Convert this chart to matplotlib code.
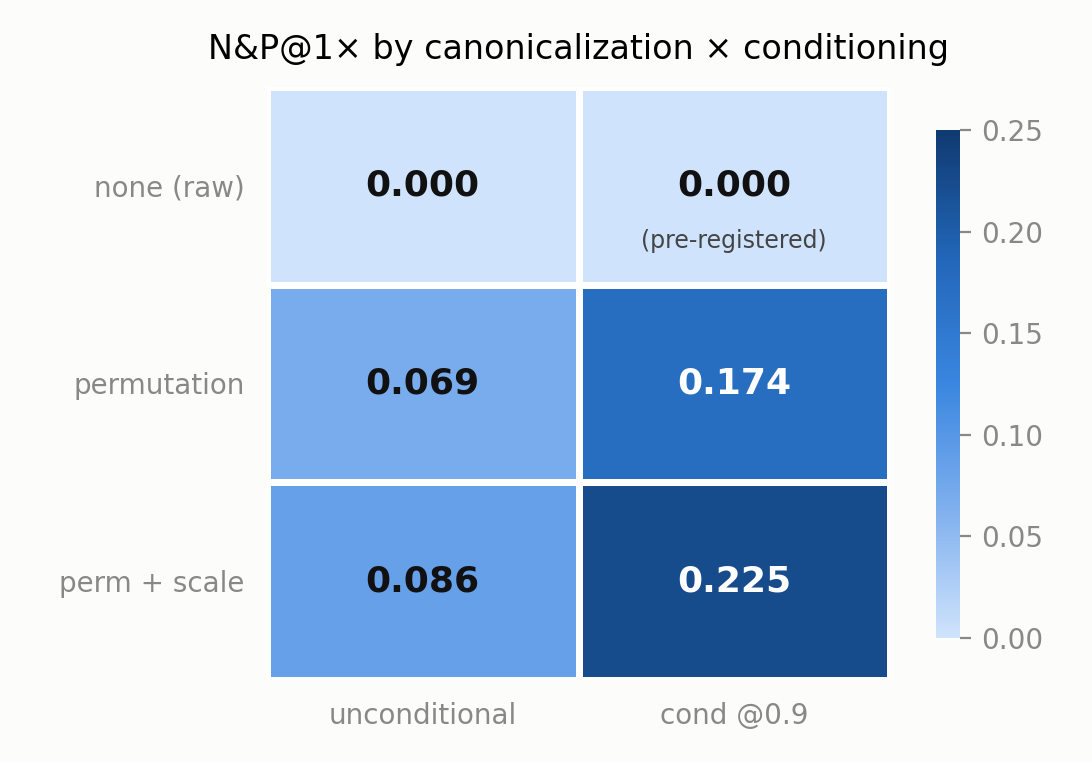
import matplotlib
matplotlib.use('Agg')
import matplotlib.pyplot as plt
import numpy as np
from matplotlib.colors import LinearSegmentedColormap

rows = ['none (raw)', 'permutation', 'perm + scale']
cols = ['unconditional', 'cond @0.9']
vals = np.array([[0.000, 0.000],
                 [0.069, 0.174],
                 [0.086, 0.225]])

bg = '#fcfcfa'
grey = '#888888'
cmap = LinearSegmentedColormap.from_list(
    'blu', ['#cfe3fc', '#80b0ee', '#3a86e0', '#2266b8', '#0f3a70'])

fig = plt.figure(figsize=(5.46, 3.81), dpi=200, facecolor=bg)
ax = fig.add_axes([267/1092, 1-680/762, 623/1092, 593/762])
cax = fig.add_axes([936/1092, 1-638/762, 24/1092, 508/762])

m = ax.pcolormesh(vals, cmap=cmap, vmin=0, vmax=0.25,
                  edgecolor='white', linewidth=2.5)
ax.set_xlim(0, 2)
ax.set_ylim(3, 0)
for s in ax.spines.values():
    s.set_visible(False)
ax.set_xticks([0.5, 1.5])
ax.set_xticklabels(cols)
ax.set_yticks([0.5, 1.5, 2.5])
ax.set_yticklabels(rows)
ax.tick_params(length=0, colors=grey, labelsize=10, pad=8)

for i in range(3):
    for j in range(2):
        v = vals[i, j]
        c = 'white' if v > 0.15 else '#111111'
        ax.text(j + 0.5, i + 0.5, '%.3f' % v, ha='center', va='center',
                fontsize=13, fontweight='bold', color=c)
ax.text(1.5, 0.78, '(pre-registered)', ha='center', va='center',
        fontsize=8.5, color='#444444')

ax.set_title('N&P@1× by canonicalization × conditioning', fontsize=12, pad=10)

cb = fig.colorbar(m, cax=cax)
cb.outline.set_visible(False)
cb.set_ticks([0, 0.05, 0.10, 0.15, 0.20, 0.25])
cb.set_ticklabels(['0.00', '0.05', '0.10', '0.15', '0.20', '0.25'])
cax.tick_params(colors=grey, labelsize=10, length=4)

fig.savefig('out.png', facecolor=bg)
